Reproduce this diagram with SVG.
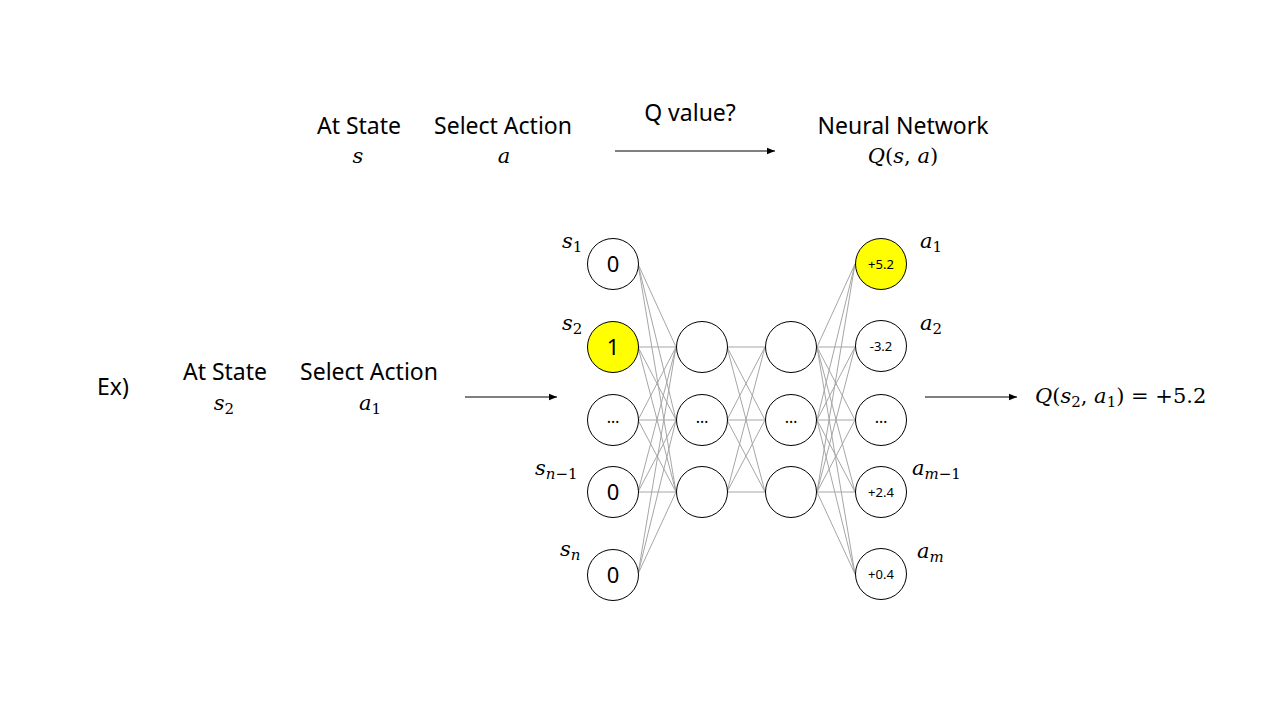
<svg xmlns="http://www.w3.org/2000/svg" width="1280" height="720" viewBox="0 0 1280 720">
<defs>
<marker id="arr" viewBox="0 0 10 10" refX="10" refY="5" markerWidth="8" markerHeight="8" markerUnits="userSpaceOnUse" orient="auto">
<path d="M0,1 L10,5 L0,9 z" fill="#000"/>
</marker>
</defs>
<style>
.t{font-family:"Noto Sans","Open Sans",sans-serif;font-size:23px;fill:#000;text-anchor:middle}
.m{font-family:"DejaVu Serif","Liberation Serif",serif;font-style:italic;font-size:21px;fill:#000}
.mc{text-anchor:middle}
.u{font-style:normal}
.sub{font-size:15px;font-style:normal}
.subi{font-size:15px}
.n{fill:#fff;stroke:#000;stroke-width:1}
.y{fill:#ffff00;stroke:#000;stroke-width:1}
.nt{font-family:"Noto Sans","Open Sans",sans-serif;font-size:22px;text-anchor:middle;fill:#000}
.dt{font-family:"Noto Sans","Open Sans",sans-serif;font-size:16px;text-anchor:middle;fill:#000}
.st{font-family:"Noto Sans","Open Sans",sans-serif;font-size:13px;text-anchor:middle;fill:#000}
.e{stroke:#a6a6a6;stroke-width:1;fill:none}
.a{stroke:#000;stroke-width:1;fill:none}
</style>
<rect width="1280" height="720" fill="#fff"/>

<g id="connectors">
<g class="e">
<path d="M638,264 L676,347 M638,264 L676,420 M638,264 L676,492"/>
<path d="M638,347 L676,347 M638,347 L676,420 M638,347 L676,492"/>
<path d="M638,420 L676,347 M638,420 L676,420 M638,420 L676,492"/>
<path d="M638,492 L676,347 M638,492 L676,420 M638,492 L676,492"/>
<path d="M638,574 L676,347 M638,574 L676,420 M638,574 L676,492"/>
<path d="M727,347 L765,347 M727,347 L765,420 M727,347 L765,492"/>
<path d="M727,420 L765,347 M727,420 L765,420 M727,420 L765,492"/>
<path d="M727,492 L765,347 M727,492 L765,420 M727,492 L765,492"/>
<path d="M817,347 L855,264 M817,347 L855,347 M817,347 L855,420 M817,347 L855,492 M817,347 L855,574"/>
<path d="M817,420 L855,264 M817,420 L855,347 M817,420 L855,420 M817,420 L855,492 M817,420 L855,574"/>
<path d="M817,492 L855,264 M817,492 L855,347 M817,492 L855,420 M817,492 L855,492 M817,492 L855,574"/>
</g>
<line class="a" x1="615" y1="151" x2="775" y2="151" marker-end="url(#arr)"/>
<line class="a" x1="465" y1="397" x2="557" y2="397" marker-end="url(#arr)"/>
<line class="a" x1="925" y1="397" x2="1017" y2="397" marker-end="url(#arr)"/>
</g>

<g id="top-text">
<text class="t" x="359" y="134">At State</text>
<text class="m mc" x="358" y="163">s</text>
<text class="t" x="503" y="134">Select Action</text>
<text class="m mc" x="504" y="163">a</text>
<text class="t" x="690" y="121">Q value?</text>
<text class="t" x="903" y="134">Neural Network</text>
<text class="m mc" x="903" y="163">Q<tspan class="u">(</tspan>s<tspan class="u">, </tspan>a<tspan class="u">)</tspan></text>
</g>

<g id="example-text">
<text class="t" x="113" y="395">Ex)</text>
<text class="t" x="225" y="380">At State</text>
<text class="m mc" x="224" y="410">s<tspan class="sub" dy="4">2</tspan></text>
<text class="t" x="369" y="380">Select Action</text>
<text class="m mc" x="370" y="410">a<tspan class="sub" dy="4">1</tspan></text>
<text class="m" x="1035" y="403">Q<tspan class="u">(</tspan>s<tspan class="sub" dy="4">2</tspan><tspan class="u" dy="-4">, </tspan>a<tspan class="sub" dy="4">1</tspan><tspan class="u" dy="-4">) = +5.2</tspan></text>
</g>

<g id="in1"><circle class="n" cx="613" cy="264" r="25.5"/><text class="nt" x="613" y="272">0</text><text class="m" x="562" y="248">s<tspan class="sub" dy="4">1</tspan></text></g>
<g id="in2"><circle class="y" cx="613" cy="347" r="25.5"/><text class="nt" x="613" y="355">1</text><text class="m" x="562" y="330">s<tspan class="sub" dy="4">2</tspan></text></g>
<g id="in3"><circle class="n" cx="613" cy="420" r="25.5"/><text class="dt" x="613" y="423">…</text></g>
<g id="in4"><circle class="n" cx="613" cy="492" r="25.5"/><text class="nt" x="613" y="500">0</text><text class="m" x="535" y="475">s<tspan class="subi" dy="4">n</tspan><tspan class="sub">−1</tspan></text></g>
<g id="in5"><circle class="n" cx="613" cy="575" r="25.5"/><text class="nt" x="613" y="583">0</text><text class="m" x="560" y="556">s<tspan class="subi" dy="4">n</tspan></text></g>

<g id="h1a"><circle class="n" cx="702" cy="347" r="25.5"/></g>
<g id="h1b"><circle class="n" cx="702" cy="420" r="25.5"/><text class="dt" x="702" y="423">…</text></g>
<g id="h1c"><circle class="n" cx="702" cy="492" r="25.5"/></g>

<g id="h2a"><circle class="n" cx="791" cy="347" r="25.5"/></g>
<g id="h2b"><circle class="n" cx="791" cy="420" r="25.5"/><text class="dt" x="791" y="423">…</text></g>
<g id="h2c"><circle class="n" cx="791" cy="492" r="25.5"/></g>

<g id="out1"><circle class="y" cx="881" cy="264" r="25.5"/><text class="st" x="881" y="269">+5.2</text><text class="m" x="920" y="248">a<tspan class="sub" dy="4">1</tspan></text></g>
<g id="out2"><circle class="n" cx="881" cy="346" r="25.5"/><text class="st" x="881" y="351">-3.2</text><text class="m" x="920" y="330">a<tspan class="sub" dy="4">2</tspan></text></g>
<g id="out3"><circle class="n" cx="881" cy="420" r="25.5"/><text class="dt" x="881" y="423">…</text></g>
<g id="out4"><circle class="n" cx="881" cy="492" r="25.5"/><text class="st" x="881" y="497">+2.4</text><text class="m" x="912" y="475">a<tspan class="subi" dy="4">m</tspan><tspan class="sub">−1</tspan></text></g>
<g id="out5"><circle class="n" cx="881" cy="574" r="25.5"/><text class="st" x="881" y="579">+0.4</text><text class="m" x="917" y="558">a<tspan class="subi" dy="4">m</tspan></text></g>
</svg>
